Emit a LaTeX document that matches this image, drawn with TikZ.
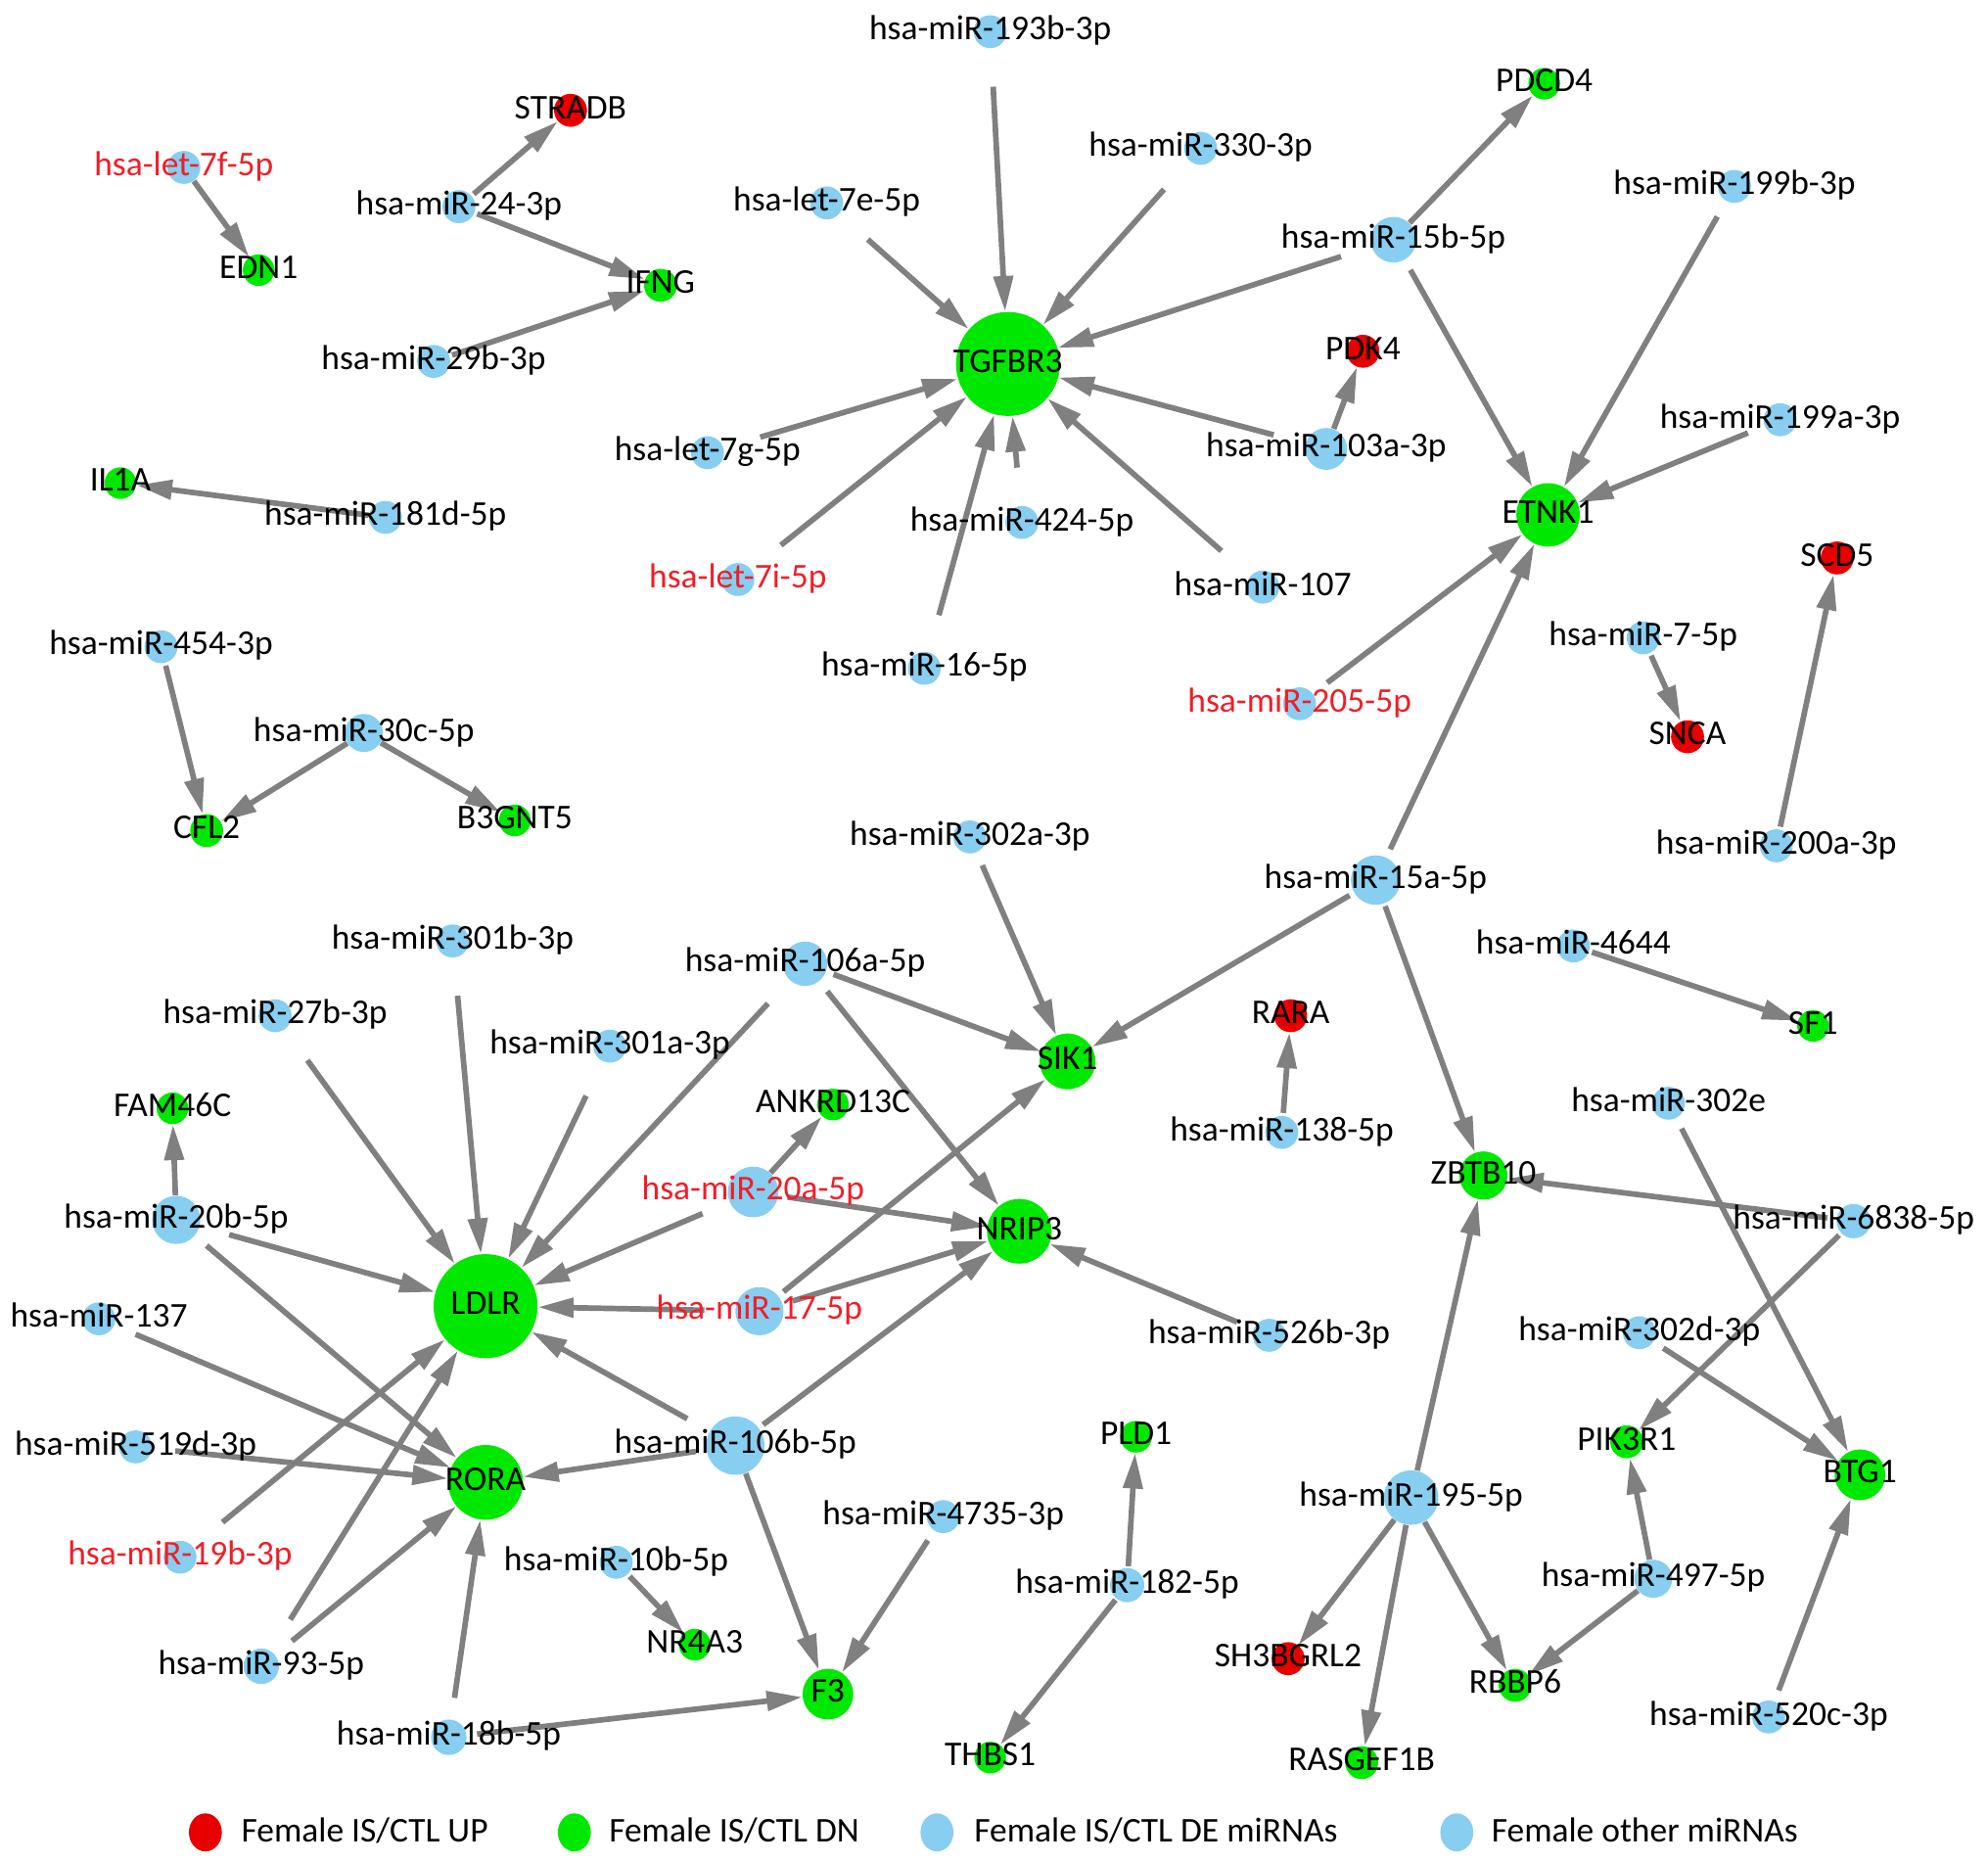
\documentclass[tikz,border=0pt]{standalone}
\usepackage{fontspec}
\setmainfont{Carlito}
\usetikzlibrary{arrows.meta,shapes.geometric}
\pgfdeclarelayer{background}
\pgfsetlayers{background,main}
\definecolor{mgreen}{RGB}{0,232,0}
\definecolor{mred}{RGB}{232,0,0}
\definecolor{mblue}{RGB}{135,206,240}
\definecolor{egray}{RGB}{128,128,128}
\definecolor{lred}{RGB}{240,30,40}
\tikzset{
  lbl/.style={font=\fontsize{13.7pt}{16pt}\selectfont, text=black, inner sep=0pt, text height=0.72em, text depth=0.076em},
  rlbl/.style={lbl, text=lred},
  nd/.style={circle, inner sep=0pt, minimum size=#1pt, draw=none},
  bn/.style={nd=#1, fill=mblue},
  gn/.style={nd=#1, fill=mgreen},
  rn/.style={nd=#1, fill=mred},
  edge/.style={draw=egray, line width=2.2pt, -{Triangle[length=14pt,width=7.5pt]}},
  legdot/.style={ellipse, inner sep=0pt, minimum width=13pt, minimum height=15pt, draw=none},
}
\newcommand\edg[3]{\draw[edge,shorten <=#3pt] (#1) -- (#2);}
\begin{document}
\begin{tikzpicture}[x=0.5pt,y=-0.5pt]
\useasboundingbox (0,0) rectangle (1568,1469);
% ---------- nodes ----------
\node[bn=13, label={[rlbl]center:hsa-let-7f-5p}] (let7f) at (145,132) {};
\node[gn=12.5, label={[lbl]center:EDN1}] (EDN1) at (204,213) {};
\node[rn=13, label={[lbl]center:STRADB}] (STRADB) at (450,87) {};
\node[bn=13, label={[lbl]center:hsa-miR-24-3p}] (m24) at (362,163) {};
\node[gn=13, label={[lbl]center:IFNG}] (IFNG) at (521,225) {};
\node[bn=13, label={[lbl]center:hsa-miR-29b-3p}] (m29b) at (342,285) {};
\node[gn=12.5, label={[lbl]center:IL1A}] (IL1A) at (95,381) {};
\node[bn=13, label={[lbl]center:hsa-miR-181d-5p}] (m181d) at (304,408) {};
\node[bn=13, label={[lbl]center:hsa-miR-454-3p}] (m454) at (127,510) {};
\node[bn=15, label={[lbl]center:hsa-miR-30c-5p}] (m30c) at (287,578) {};
\node[gn=13, label={[lbl]center:CFL2}] (CFL2) at (163,655) {};
\node[gn=12.5, label={[lbl]center:B3GNT5}] (B3GNT5) at (406,647) {};

\node[bn=13, label={[lbl]center:hsa-miR-193b-3p}] (m193b) at (781,25) {};
\node[bn=13, label={[lbl]center:hsa-miR-330-3p}] (m330) at (947,117) {};
\node[bn=13, label={[lbl]center:hsa-let-7e-5p}] (let7e) at (652,160) {};
\node[gn=41, label={[lbl]center:TGFBR3}] (TGFBR3) at (795,287) {};
\node[bn=13, label={[lbl]center:hsa-let-7g-5p}] (let7g) at (558,357) {};
\node[bn=13, label={[rlbl]center:hsa-let-7i-5p}] (let7i) at (582,457) {};
\node[bn=13, label={[lbl]center:hsa-miR-424-5p}] (m424) at (806,412) {};
\node[bn=13, label={[lbl]center:hsa-miR-16-5p}] (m16) at (729,527) {};
\node[bn=13, label={[lbl]center:hsa-miR-107}] (m107) at (996,463) {};
\node[bn=16.5, label={[lbl]center:hsa-miR-103a-3p}] (m103a) at (1046,354) {};
\node[rn=13, label={[lbl]center:PDK4}] (PDK4) at (1075,277) {};
\node[bn=18, label={[lbl]center:hsa-miR-15b-5p}] (m15b) at (1099,189) {};
\node[gn=12.5, label={[lbl]center:PDCD4}] (PDCD4) at (1218,66) {};
\node[bn=13, label={[lbl]center:hsa-miR-199b-3p}] (m199b) at (1368,147) {};
\node[bn=13, label={[lbl]center:hsa-miR-199a-3p}] (m199a) at (1404,331) {};
\node[gn=25, label={[lbl]center:ETNK1}] (ETNK1) at (1221,406) {};
\node[bn=13, label={[rlbl]center:hsa-miR-205-5p}] (m205) at (1025,555) {};
\node[rn=13, label={[lbl]center:SCD5}] (SCD5) at (1449,440) {};
\node[bn=13, label={[lbl]center:hsa-miR-7-5p}] (m7) at (1296,503) {};
\node[rn=13, label={[lbl]center:SNCA}] (SNCA) at (1331,581) {};
\node[bn=13, label={[lbl]center:hsa-miR-200a-3p}] (m200a) at (1401,667) {};

\node[bn=13, label={[lbl]center:hsa-miR-302a-3p}] (m302a) at (765,660) {};
\node[bn=19.5, label={[lbl]center:hsa-miR-15a-5p}] (m15a) at (1085,694) {};
\node[bn=17.5, label={[lbl]center:hsa-miR-106a-5p}] (m106a) at (635,760) {};
\node[gn=22, label={[lbl]center:SIK1}] (SIK1) at (842,837) {};
\node[bn=13, label={[lbl]center:hsa-miR-4644}] (m4644) at (1241,746) {};
\node[gn=12.5, label={[lbl]center:SF1}] (SF1) at (1430,809) {};
\node[rn=13, label={[lbl]center:RARA}] (RARA) at (1018,801) {};
\node[bn=13, label={[lbl]center:hsa-miR-138-5p}] (m138) at (1011,893) {};
\node[gn=19, label={[lbl]center:ZBTB10}] (ZBTB10) at (1170,927) {};
\node[bn=13, label={[lbl]center:hsa-miR-302e}] (m302e) at (1316,870) {};
\node[bn=13.5, label={[lbl]center:hsa-miR-6838-5p}] (m6838) at (1462,963) {};
\node[bn=13, label={[lbl]center:hsa-miR-301b-3p}] (m301b) at (357,742) {};
\node[bn=13, label={[lbl]center:hsa-miR-27b-3p}] (m27b) at (217,801) {};
\node[bn=13, label={[lbl]center:hsa-miR-301a-3p}] (m301a) at (481,825) {};
\node[gn=12.5, label={[lbl]center:ANKRD13C}] (ANKRD13C) at (657,871) {};
\node[gn=12.5, label={[lbl]center:FAM46C}] (FAM46C) at (136,874) {};
\node[bn=19, label={[lbl]center:hsa-miR-20b-5p}] (m20b) at (139,962) {};
\node[bn=20, label={[rlbl]center:hsa-miR-20a-5p}] (m20a) at (594,940) {};
\node[gn=25.5, label={[lbl]center:NRIP3}] (NRIP3) at (804,971) {};
\node[gn=41, label={[lbl]center:LDLR}] (LDLR) at (383,1030) {};
\node[bn=19, label={[rlbl]center:hsa-miR-17-5p}] (m17) at (599,1034) {};
\node[bn=13, label={[lbl]center:hsa-miR-137}] (m137) at (78,1040) {};
\node[bn=13, label={[lbl]center:hsa-miR-526b-3p}] (m526b) at (1001,1053) {};
\node[bn=13, label={[lbl]center:hsa-miR-302d-3p}] (m302d) at (1293,1051) {};
\node[bn=13, label={[lbl]center:hsa-miR-519d-3p}] (m519d) at (107,1141) {};
\node[gn=29.5, label={[lbl]center:RORA}] (RORA) at (383,1169) {};
\node[bn=23, label={[lbl]center:hsa-miR-106b-5p}] (m106b) at (580,1140) {};
\node[gn=12.5, label={[lbl]center:PLD1}] (PLD1) at (896,1133) {};
\node[gn=13, label={[lbl]center:PIK3R1}] (PIK3R1) at (1283,1137) {};
\node[gn=20, label={[lbl]center:BTG1}] (BTG1) at (1467,1163) {};
\node[bn=13, label={[lbl]center:hsa-miR-4735-3p}] (m4735) at (744,1196) {};
\node[bn=21.5, label={[lbl]center:hsa-miR-195-5p}] (m195) at (1113,1181) {};
\node[bn=13, label={[rlbl]center:hsa-miR-19b-3p}] (m19b) at (142,1228) {};
\node[bn=13, label={[lbl]center:hsa-miR-10b-5p}] (m10b) at (486,1232) {};
\node[bn=13.5, label={[lbl]center:hsa-miR-182-5p}] (m182) at (889,1250) {};
\node[bn=15, label={[lbl]center:hsa-miR-497-5p}] (m497) at (1304,1245) {};
\node[bn=14, label={[lbl]center:hsa-miR-93-5p}] (m93) at (206,1314) {};
\node[gn=12.5, label={[lbl]center:NR4A3}] (NR4A3) at (548,1297) {};
\node[gn=20, label={[lbl]center:F3}] (F3) at (653,1336) {};
\node[rn=13, label={[lbl]center:SH3BGRL2}] (SH3BGRL2) at (1016,1308) {};
\node[gn=13, label={[lbl]center:RBBP6}] (RBBP6) at (1195,1329) {};
\node[bn=13, label={[lbl]center:hsa-miR-520c-3p}] (m520c) at (1395,1354) {};
\node[bn=14, label={[lbl]center:hsa-miR-18b-5p}] (m18b) at (354,1370) {};
\node[gn=12.5, label={[lbl]center:THBS1}] (THBS1) at (781,1386) {};
\node[gn=13, label={[lbl]center:RASGEF1B}] (RASGEF1B) at (1074,1390) {};

% ---------- legend ----------
\node[legdot, fill=mred] (lg1) at (162,1445) {};
\node[lbl, anchor=west] (lg1t) at (190,1446) {Female IS/CTL UP};
\node[legdot, fill=mgreen] (lg2) at (453,1445) {};
\node[lbl, anchor=west] (lg2t) at (480,1446) {Female IS/CTL DN};
\node[legdot, fill=mblue] (lg3) at (739,1445) {};
\node[lbl, anchor=west] (lg3t) at (768,1446) {Female IS/CTL DE miRNAs};
\node[legdot, fill=mblue] (lg4) at (1149,1445) {};
\node[lbl, anchor=west] (lg4t) at (1176,1446) {Female other miRNAs};

% ---------- edges ----------
\begin{pgfonlayer}{background}
\edg{let7f}{EDN1}{0}
\edg{m24}{STRADB}{1}
\edg{m24}{IFNG}{1}
\edg{m29b}{IFNG}{1}
\edg{m181d}{IL1A}{0}
\edg{m454}{CFL2}{1}
\edg{m30c}{CFL2}{0}
\edg{m30c}{B3GNT5}{0}
\edg{m193b}{TGFBR3}{15}
\edg{m330}{TGFBR3}{15}
\edg{let7e}{TGFBR3}{15}
\edg{m15b}{TGFBR3}{12.5}
\edg{let7g}{TGFBR3}{15}
\edg{let7i}{TGFBR3}{15}
\edg{m424}{TGFBR3}{15}
\edg{m16}{TGFBR3}{15}
\edg{m107}{TGFBR3}{15}
\edg{m103a}{TGFBR3}{13}
\edg{m103a}{PDK4}{0}
\edg{m15b}{PDCD4}{0}
\edg{m15b}{ETNK1}{4.5}
\edg{m199b}{ETNK1}{7}
\edg{m199a}{ETNK1}{7}
\edg{m205}{ETNK1}{7}
\edg{m15a}{ETNK1}{3.5}
\edg{m7}{SNCA}{1}
\edg{m200a}{SCD5}{1}
\edg{m302a}{SIK1}{5.5}
\edg{m15a}{SIK1}{2}
\edg{m15a}{ZBTB10}{1}
\edg{m106a}{SIK1}{3}
\edg{m106a}{NRIP3}{5}
\edg{m106a}{LDLR}{12.5}
\edg{m4644}{SF1}{1}
\edg{m138}{RARA}{1}
\edg{m6838}{ZBTB10}{3.5}
\edg{m6838}{PIK3R1}{1}
\edg{m302e}{BTG1}{4.5}
\edg{m302d}{BTG1}{4.5}
\edg{m301b}{LDLR}{15}
\edg{m27b}{LDLR}{15}
\edg{m301a}{LDLR}{15}
\edg{m20b}{FAM46C}{0}
\edg{m20b}{LDLR}{12}
\edg{m20b}{RORA}{6}
\edg{m20a}{ANKRD13C}{0}
\edg{m20a}{LDLR}{11.5}
\edg{m20a}{NRIP3}{3.5}
\edg{m17}{LDLR}{12}
\edg{m17}{SIK1}{2.5}
\edg{m17}{NRIP3}{4}
\edg{m526b}{NRIP3}{7}
\edg{m137}{RORA}{9}
\edg{m519d}{RORA}{9}
\edg{m19b}{LDLR}{15}
\edg{m93}{LDLR}{14.5}
\edg{m93}{RORA}{8.5}
\edg{m18b}{RORA}{8.5}
\edg{m18b}{F3}{4}
\edg{m106b}{RORA}{4}
\edg{m106b}{LDLR}{10}
\edg{m106b}{NRIP3}{2}
\edg{m106b}{F3}{0}
\edg{m4735}{F3}{4.5}
\edg{m10b}{NR4A3}{1}
\edg{m182}{PLD1}{0.5}
\edg{m182}{THBS1}{0.5}
\edg{m195}{ZBTB10}{0}
\edg{m195}{SH3BGRL2}{0}
\edg{m195}{RASGEF1B}{0}
\edg{m195}{RBBP6}{0}
\edg{m497}{PIK3R1}{0}
\edg{m497}{RBBP6}{0}
\edg{m520c}{BTG1}{4.5}
\end{pgfonlayer}
\end{tikzpicture}
\end{document}
